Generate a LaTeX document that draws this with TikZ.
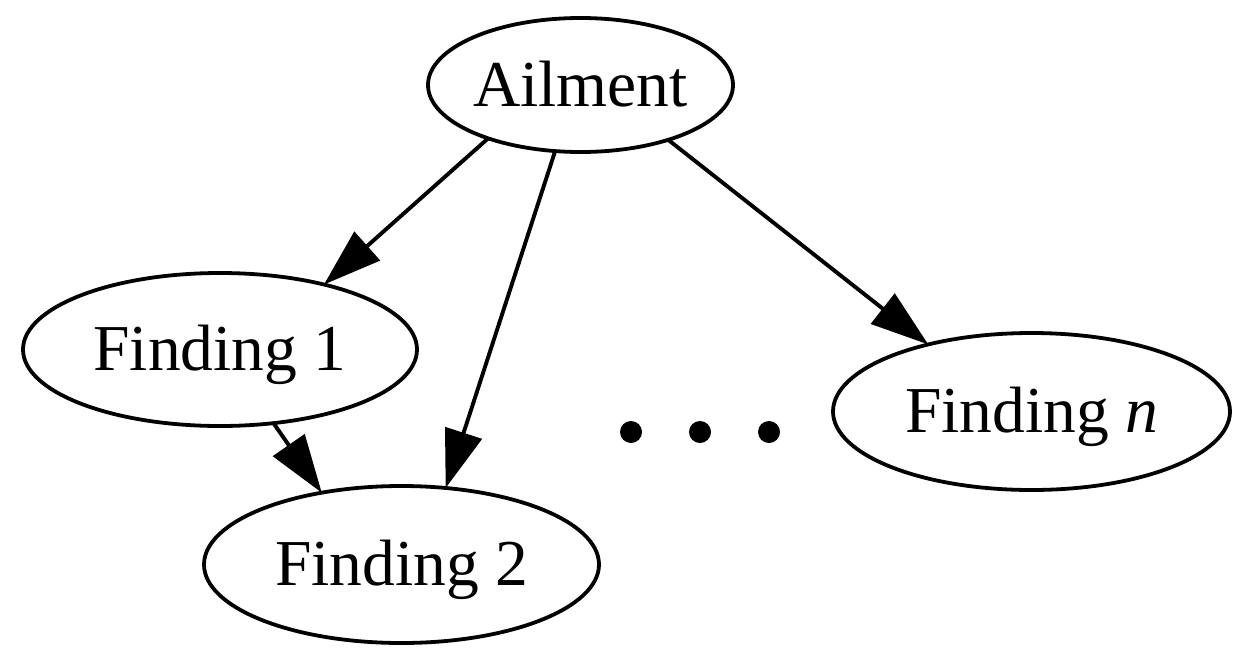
\documentclass[tikz,border=0pt]{standalone}
\usepackage{fontspec}
\setmainfont{Liberation Serif}
\usetikzlibrary{shapes.geometric,arrows.meta}
\begin{document}
\begin{tikzpicture}[x=1pt,y=-1pt,
  nodebox/.style={ellipse,draw,line width=3.8pt,inner sep=0pt,outer sep=0pt,
    font=\fontsize{65.5}{78}\selectfont,text height=55pt,text depth=13pt},
  edge/.style={line width=3.9pt,-{Triangle[length=58pt,width=38pt]}},
  dotnode/.style={circle,fill,inner sep=0pt,minimum size=22pt}]
\useasboundingbox (0,0) rectangle (1250,667);
\node[nodebox,minimum width=305pt,minimum height=134pt] (A) at (580.5,85) {Ailment};
\node[nodebox,minimum width=394pt,minimum height=153pt] (F1) at (220,349.5) {Finding 1};
\node[nodebox,minimum width=395pt,minimum height=157pt] (F2) at (401.5,564.5) {Finding 2};
\node[nodebox,minimum width=397pt,minimum height=157pt] (Fn) at (1031.5,411.5) {Finding \textit{n}};
\node[dotnode] (d1) at (631,432) {};
\node[dotnode] (d2) at (700,432) {};
\node[dotnode] (d3) at (769,432) {};
\draw[edge] (A.210.1) -- (F1.32.8);
\draw[edge] (A.249.2) -- (F2.60.8);
\draw[edge] (A.328.4) -- (Fn.147.7);
\draw[edge] (F1.306.3) -- (F2.138.3);
\end{tikzpicture}
\end{document}
